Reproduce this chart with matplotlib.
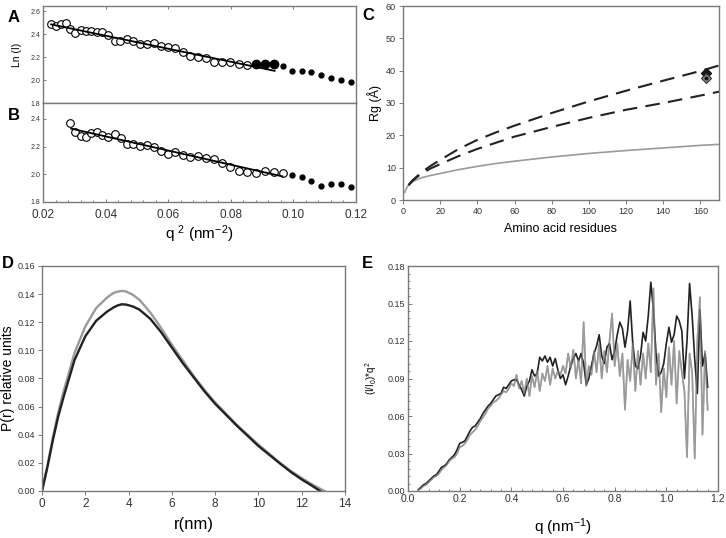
import numpy as np
import matplotlib
matplotlib.use('Agg')
import matplotlib.pyplot as plt
from matplotlib.ticker import MultipleLocator

plt.rcParams['font.family'] = ['Liberation Sans', 'DejaVu Sans']
plt.rcParams['mathtext.default'] = 'regular'

# Panel A : Guinier plot
a_open_q = [0.0226, 0.0240, 0.0256, 0.0272, 0.0287, 0.0303, 0.0320, 0.0338, 0.0353, 0.0371, 0.0390,
            0.0408, 0.0429, 0.0447, 0.0468, 0.0489, 0.0510, 0.0531, 0.0554, 0.0576, 0.0599, 0.0623,
            0.0648, 0.0671, 0.0695, 0.0721, 0.0747, 0.0773, 0.0798, 0.0825, 0.0853]
a_open_ln = [2.485, 2.473, 2.485, 2.493, 2.444, 2.407, 2.435, 2.430, 2.430, 2.421, 2.415,
             2.392, 2.340, 2.340, 2.358, 2.343, 2.311, 2.314, 2.326, 2.300, 2.285, 2.277,
             2.248, 2.213, 2.202, 2.196, 2.161, 2.153, 2.153, 2.141, 2.132]
a_big_q = [0.0880, 0.0910, 0.0938]
a_big_ln = [2.138, 2.138, 2.144]
a_small_q = [0.0967, 0.0997, 0.1026, 0.1057, 0.1088, 0.1120, 0.1151, 0.1184]
a_small_ln = [2.124, 2.083, 2.075, 2.066, 2.046, 2.017, 2.003, 1.982]
a_fit_q = [0.0226, 0.0940]
a_fit_ln = [2.485, 2.080]

# Panel B
b_open_q = [0.0287, 0.0303, 0.0320, 0.0338, 0.0353, 0.0371, 0.0390, 0.0408, 0.0429, 0.0449, 0.0468,
            0.0489, 0.0510, 0.0531, 0.0554, 0.0576, 0.0599, 0.0623, 0.0648, 0.0671, 0.0695, 0.0721,
            0.0747, 0.0773, 0.0798, 0.0825, 0.0853, 0.0880, 0.0910, 0.0938, 0.0967]
b_open_ln = [2.369, 2.308, 2.277, 2.272, 2.296, 2.304, 2.284, 2.272, 2.289, 2.265, 2.219,
             2.219, 2.207, 2.212, 2.200, 2.171, 2.147, 2.164, 2.140, 2.128, 2.135, 2.120,
             2.108, 2.080, 2.051, 2.027, 2.019, 2.012, 2.024, 2.019, 2.007]
b_fill_q = [0.0997, 0.1026, 0.1057, 0.1088, 0.1120, 0.1151, 0.1184]
b_fill_ln = [1.998, 1.983, 1.952, 1.916, 1.928, 1.930, 1.906]
b_fit_q = [0.0290, 0.0965]
b_fit_ln = [2.330, 1.985]

# Panel C : Rg vs number of residues
c_n = [1, 2, 3, 5, 7, 10, 15, 20, 30, 40, 50, 60, 80, 100, 120, 140, 160, 170]
c_folded = [2.4, 3.8, 4.6, 5.6, 6.2, 6.9, 7.6, 8.2, 9.4, 10.4, 11.3, 12.0, 13.3, 14.4, 15.3, 16.1, 16.9, 17.2]
c_n_dash = [3, 5, 7, 10, 15, 20, 30, 40, 50, 60, 80, 100, 120, 140, 160, 170]
c_unfold_hi = [4.6, 6.0, 7.0, 8.6, 10.6, 12.4, 15.8, 18.6, 20.9, 23.0, 26.9, 30.5, 33.8, 36.9, 39.9, 41.6]
c_unfold_lo = [4.6, 5.9, 6.9, 8.2, 9.8, 11.1, 13.6, 15.8, 17.7, 19.6, 22.6, 25.4, 27.9, 30.0, 32.3, 33.5]
c_exp_n = [163, 163]
c_exp_rg = [39.2, 37.6]

# Panel D : P(r)
d_r1 = [0, 0.25, 0.5, 0.75, 1.0, 1.5, 2.0, 2.5, 3.0, 3.3, 3.5, 3.7, 3.9, 4.2, 4.5, 5.0, 5.5, 6.0, 6.5,
        7.0, 7.5, 8.0, 9.0, 10.0, 11.0, 11.5, 12.0, 12.5, 12.85]
d_p1 = [0, 0.017, 0.036, 0.053, 0.067, 0.093, 0.110, 0.121, 0.1275, 0.1305, 0.1320, 0.1328, 0.1325,
        0.1312, 0.129, 0.1225, 0.113, 0.102, 0.091, 0.081, 0.071, 0.062, 0.0465, 0.032, 0.0195,
        0.0135, 0.0082, 0.0035, 0.0]
d_r2 = [0, 0.25, 0.5, 0.75, 1.0, 1.5, 2.0, 2.5, 3.0, 3.3, 3.5, 3.7, 3.9, 4.2, 4.5, 5.0, 5.5, 6.0, 6.5,
        7.0, 7.5, 8.0, 9.0, 10.0, 11.0, 11.5, 12.0, 12.5, 13.05]
d_p2 = [0, 0.018, 0.038, 0.056, 0.071, 0.098, 0.117, 0.130, 0.1375, 0.1408, 0.1418, 0.1423, 0.1418,
        0.1395, 0.136, 0.127, 0.116, 0.104, 0.093, 0.082, 0.072, 0.063, 0.047, 0.033, 0.020,
        0.0142, 0.0092, 0.0045, 0.0]

# Panel E : Kratky plot
e_q = np.round(np.arange(0.04, 1.165, 0.01), 2)
e_black = [0.001, 0.003, 0.005, 0.006, 0.008, 0.010, 0.012, 0.013, 0.016, 0.019, 0.020, 0.022, 0.025,
           0.027, 0.029, 0.033, 0.038, 0.039, 0.040, 0.044, 0.048, 0.051, 0.052, 0.055, 0.058, 0.062,
           0.065, 0.068, 0.070, 0.073, 0.076, 0.077, 0.078, 0.083, 0.082, 0.085, 0.088, 0.089, 0.089,
           0.085, 0.081, 0.076, 0.084, 0.088, 0.097, 0.092, 0.094, 0.107, 0.104, 0.108, 0.103, 0.107,
           0.100, 0.106, 0.097, 0.090, 0.093, 0.085, 0.092, 0.100, 0.106, 0.110, 0.104, 0.110, 0.102,
           0.085, 0.090, 0.100, 0.110, 0.116, 0.125, 0.108, 0.102, 0.115, 0.118, 0.105, 0.112, 0.125,
           0.135, 0.130, 0.115, 0.128, 0.152, 0.118, 0.100, 0.098, 0.108, 0.127, 0.120, 0.140, 0.167,
           0.145, 0.110, 0.092, 0.095, 0.102, 0.118, 0.131, 0.119, 0.125, 0.140, 0.136, 0.128, 0.090,
           0.120, 0.166, 0.140, 0.105, 0.078, 0.145, 0.100, 0.110, 0.083]
e_gray = [0.001, 0.002, 0.004, 0.005, 0.007, 0.009, 0.011, 0.012, 0.014, 0.017, 0.019, 0.021, 0.024,
          0.026, 0.027, 0.030, 0.035, 0.036, 0.038, 0.041, 0.045, 0.047, 0.049, 0.052, 0.056, 0.059,
          0.062, 0.066, 0.068, 0.071, 0.072, 0.074, 0.077, 0.080, 0.079, 0.082, 0.086, 0.084, 0.093,
          0.082, 0.088, 0.078, 0.090, 0.076, 0.092, 0.083, 0.096, 0.080, 0.094, 0.088, 0.100, 0.085,
          0.098, 0.090, 0.096, 0.093, 0.100, 0.094, 0.110, 0.098, 0.113, 0.090, 0.105, 0.086, 0.135,
          0.084, 0.100, 0.093, 0.112, 0.095, 0.118, 0.090, 0.112, 0.095, 0.120, 0.142, 0.100, 0.118,
          0.092, 0.110, 0.065, 0.105, 0.088, 0.118, 0.080, 0.112, 0.085, 0.110, 0.090, 0.118, 0.095,
          0.162, 0.085, 0.110, 0.063, 0.098, 0.075, 0.115, 0.085, 0.120, 0.070, 0.112, 0.095, 0.080,
          0.027, 0.110, 0.095, 0.026, 0.120, 0.155, 0.045, 0.112, 0.065]

SPINE = '#7a7a7a'
TXT = '#333333'
DARK = '#222222'
GRAY = '#9a9a9a'

W, H = 726, 538


def box(l, t, r, b):
    return [l / W, 1 - b / H, (r - l) / W, (b - t) / H]


def style(ax, size, direction='out', length=3):
    for s in ax.spines.values():
        s.set_color(SPINE)
        s.set_linewidth(1.0)
    ax.tick_params(which='both', direction=direction, color=SPINE, labelcolor=TXT,
                   labelsize=size, length=length, width=0.7, pad=2)
    ax.tick_params(which='minor', length=length * 0.6)


fig = plt.figure(figsize=(7.26, 5.38), dpi=100)

# ---- A ----
axA = fig.add_axes(box(43, 6, 356, 103))
axA.plot(a_open_q, a_open_ln, 'o', mfc='white', mec='black', mew=0.8, ms=5.5)
axA.plot(a_big_q, a_big_ln, 'o', color='black', ms=6)
axA.plot(a_small_q, a_small_ln, 'o', color='black', ms=3.5)
axA.plot(a_fit_q, a_fit_ln, color='black', lw=1.3)
axA.set_xlim(0.02, 0.12)
axA.set_ylim(1.8, 2.645)
axA.set_yticks([1.8, 2.0, 2.2, 2.4, 2.6])
axA.yaxis.set_major_formatter(matplotlib.ticker.FormatStrFormatter('%.1f'))
axA.set_xticks([0.04, 0.06, 0.08, 0.10])
style(axA, 5, direction='in', length=2.5)
axA.tick_params(axis='x', bottom=False, top=True, labelbottom=False)
axA.set_ylabel('Ln (I)', fontsize=7.5, labelpad=6)

# ---- B ----
axB = fig.add_axes(box(43, 103, 356, 202))
axB.plot(b_open_q, b_open_ln, 'o', mfc='white', mec='black', mew=0.8, ms=5.5)
axB.plot(b_fill_q, b_fill_ln, 'o', color='black', ms=3.5)
axB.plot(b_fit_q, b_fit_ln, color='black', lw=1.3)
axB.set_xlim(0.02, 0.12)
axB.set_ylim(1.8, 2.515)
axB.set_yticks([1.8, 2.0, 2.2, 2.4])
axB.yaxis.set_major_formatter(matplotlib.ticker.FormatStrFormatter('%.1f'))
axB.set_xticks([0.02, 0.04, 0.06, 0.08, 0.10, 0.12])
axB.xaxis.set_major_formatter(matplotlib.ticker.FormatStrFormatter('%.2f'))
axB.xaxis.set_minor_locator(MultipleLocator(0.004))
style(axB, 5, direction='in', length=2.5)
axB.tick_params(axis='x', labelsize=8.5, pad=5)
axB.set_xlabel('q $^{2}$ (nm$^{-2}$)', fontsize=11, labelpad=2)

# ---- C ----
axC = fig.add_axes(box(403, 6, 719, 200))
axC.plot(c_n, c_folded, color=GRAY, lw=1.2)
axC.plot(c_n_dash, c_unfold_hi, color=DARK, lw=1.5, dashes=(7, 4))
axC.plot(c_n_dash, c_unfold_lo, color=DARK, lw=1.5, dashes=(7, 4))
axC.plot(c_exp_n[0], c_exp_rg[0], 'D', color='#1a1a1a', ms=5)
axC.plot(c_exp_n[1], c_exp_rg[1], 'D', mfc='#8a8a8a', mec='#333333', mew=0.8, ms=5.5)
axC.plot(c_exp_n[1], c_exp_rg[1], 'o', color='#111111', ms=1.8)
axC.set_xlim(0, 170)
axC.set_ylim(0, 60)
axC.set_xticks(range(0, 161, 20))
axC.set_yticks(range(0, 61, 10))
style(axC, 6.5)
axC.set_xlabel('Amino acid residues', fontsize=9, labelpad=5)
axC.set_ylabel('Rg (Å)', fontsize=9, labelpad=3)

# ---- D ----
axD = fig.add_axes(box(42, 266, 345, 491))
axD.plot(d_r2, d_p2, color=GRAY, lw=1.7)
axD.plot(d_r1, d_p1, color=DARK, lw=1.7)
axD.set_xlim(0, 14)
axD.set_ylim(0, 0.16)
axD.set_xticks(range(0, 15, 2))
axD.set_yticks(np.arange(0, 0.161, 0.02))
axD.yaxis.set_major_formatter(matplotlib.ticker.FormatStrFormatter('%.2f'))
style(axD, 6.5)
axD.tick_params(axis='x', labelsize=8.5)
axD.set_xlabel('r(nm)', fontsize=12, labelpad=5)
axD.set_ylabel('P(r) relative units', fontsize=10, labelpad=2)

# ---- E ----
axE = fig.add_axes(box(408, 266, 718, 491))
axE.plot(e_q, e_gray, color=GRAY, lw=1.2)
axE.plot(e_q, e_black, color=DARK, lw=1.2)
axE.plot(e_q, e_gray, color=GRAY, lw=1.2, alpha=0.6)
axE.set_xlim(0, 1.2)
axE.set_ylim(0, 0.18)
axE.set_xticks(np.arange(0, 1.21, 0.2))
axE.set_yticks(np.arange(0, 0.181, 0.03))
axE.xaxis.set_major_formatter(matplotlib.ticker.FormatStrFormatter('%.1f'))
axE.yaxis.set_major_formatter(matplotlib.ticker.FormatStrFormatter('%.2f'))
axE.xaxis.set_minor_locator(MultipleLocator(0.04))
axE.yaxis.set_minor_locator(MultipleLocator(0.006))
style(axE, 6.5, direction='in', length=3)
axE.tick_params(axis='x', labelsize=7.5)
axE.set_xlabel('q (nm$^{-1}$)', fontsize=11, labelpad=9)
axE.set_ylabel('(I/I$_0$)*q$^2$', fontsize=7, labelpad=6)

# panel letters
for letter, (px, py) in {'A': (14, 17), 'B': (14, 116), 'C': (368, 16),
                         'D': (8, 264), 'E': (367, 264)}.items():
    fig.text(px / W, 1 - py / H, letter, fontsize=12, fontweight='bold', ha='center', va='center')

fig.savefig('out.png', dpi=100)
